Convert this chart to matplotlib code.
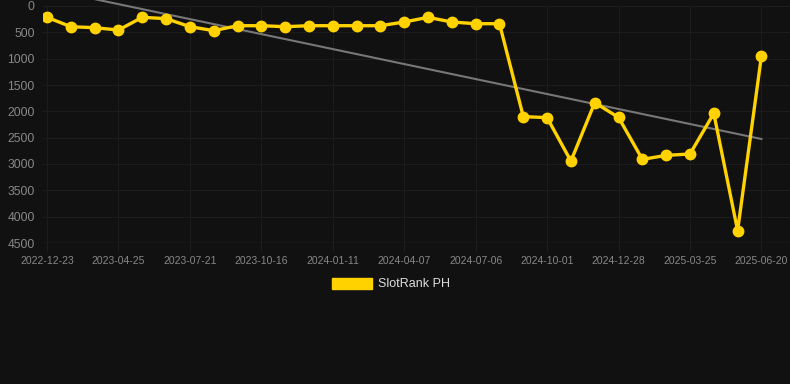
import numpy as np
import matplotlib
matplotlib.use("Agg")
import matplotlib.pyplot as plt

# rank values, one per sample (lower rank number = better, axis inverted)
ranks = [215, 393, 412, 456, 215, 240, 393, 468, 374, 374,
         393, 374, 374, 374, 374, 304, 215, 304, 336, 336,
         2100, 2120, 2945, 1835, 2115, 2912, 2836, 2810, 2038, 4266,
         950]
tick_labels = ["2022-12-23", "2023-04-25", "2023-07-21", "2023-10-16",
               "2024-01-11", "2024-04-07", "2024-07-06", "2024-10-01",
               "2024-12-28", "2025-03-25", "2025-06-20"]
series_name = "SlotRank PH"
# trend line value at first and last sample
trend_ends = [-320, 2525]

plt.rcParams['font.family'] = ['Liberation Sans', 'DejaVu Sans']

bg = "#111111"
gold = "#FFD200"

fig = plt.figure(figsize=(7.9, 3.84), dpi=100, facecolor=bg)
ax = fig.add_axes([43 / 790, 1 - 243 / 384, 747 / 790, 237 / 384])
ax.set_facecolor(bg)

x = np.arange(len(ranks))
# trend runs past the top of the plot area, not clipped
ax.plot([x[0], x[-1]], trend_ends, color="#777777", lw=1.5, zorder=2, clip_on=False)

ax.plot(x, ranks, color=gold, lw=2.4, marker="o", ms=7.5, zorder=3,
        label=series_name)

ax.set_ylim(4500, 0)
ax.set_xlim(-0.17, 31.2)
ax.set_yticks(np.arange(0, 4501, 500))
ax.set_xticks(x[::3])
ax.set_xticklabels(tick_labels)

ax.grid(True, color="#1c1c1c", lw=0.8)
for s in ax.spines.values():
    s.set_visible(False)
ax.axhline(4500, color="#2b2b2b", lw=1)
ax.tick_params(axis="x", colors="#1f1f1f", labelcolor="#888888", labelsize=7.5,
               length=6, pad=3)
ax.tick_params(axis="y", length=0, labelcolor="#888888", labelsize=8.7, pad=6)

leg = fig.legend(handles=[plt.Rectangle((0, 0), 1, 1, color=gold)],
                 labels=[series_name], loc="center",
                 bbox_to_anchor=(391 / 790, 1 - 284 / 384),
                 frameon=False, fontsize=9, labelcolor="#dddddd",
                 handlelength=3.2, handleheight=1.0, handletextpad=0.5)

fig.savefig("out.png", dpi=100, facecolor=bg)
